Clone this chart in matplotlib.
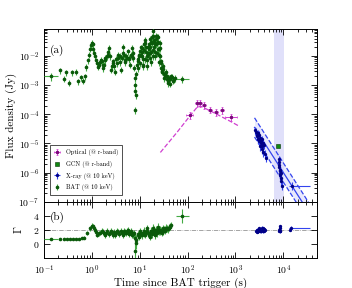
import numpy as np
import matplotlib.pyplot as plt

plt.rcParams['font.family'] = ['cmr10', 'DejaVu Serif']
plt.rcParams['mathtext.fontset'] = 'cm'
plt.rcParams['axes.formatter.use_mathtext'] = True
plt.rcParams['axes.unicode_minus'] = False

# BAT light curve (@ 10 keV), log10 flux in Jy
bat_t = [0.216, 0.26, 0.29, 0.33, 0.385, 0.47, 0.51, 0.58, 0.66, 0.71, 0.77,
         0.82, 0.87, 0.92, 0.96, 1.0, 1.04, 1.08, 1.12, 1.17, 1.22, 1.28, 1.33,
         1.40, 1.47, 1.55, 1.62, 1.68, 1.74, 1.82, 1.92, 2.05, 2.15, 2.3, 2.4,
         2.53, 2.65, 2.8, 2.95, 3.1, 3.3, 3.45, 3.6, 3.8, 4.06, 4.2, 4.4, 4.6,
         4.9, 5.2, 5.6, 5.9, 6.3, 6.6, 6.8, 7.1, 7.4, 7.7, 7.85, 7.95, 8.05,
         8.1, 8.2, 8.4, 8.7, 9.1, 9.4, 9.8, 10.2, 10.6, 11.1, 11.5, 11.9, 12.4,
         12.9, 13.4, 13.9, 14.4, 14.9, 15.5, 16.0, 16.4, 17.0, 17.6, 18.2,
         18.8, 19.3, 19.9, 20.5, 21.1, 21.8, 22.7, 23.4, 24.1, 24.9, 25.7,
         26.5, 27.3, 28.1, 28.8, 30.0, 31.5, 33.7, 35.5, 37.5, 39.7, 42.0,
         45.0, 49.0, 55.0]
bat_logf = [-2.49, -2.78, -2.56, -2.91, -2.56, -2.53, -2.87, -2.73, -2.84,
            -2.70, -2.38, -2.15, -1.95, -1.75, -1.62, -1.55, -1.60, -1.75,
            -1.88, -2.01, -2.15, -2.25, -2.36, -2.30, -2.20, -2.13, -2.18,
            -2.30, -2.41, -2.30, -2.15, -2.01, -1.85, -1.72, -2.00, -2.47,
            -2.35, -2.18, -2.35, -2.53, -2.25, -2.05, -1.95, -2.20, -2.47,
            -2.05, -1.67, -1.95, -2.13, -2.00, -1.84, -2.05, -2.30, -1.95,
            -1.72, -1.90, -2.07, -2.40, -2.76, -3.00, -3.20, -3.86, -3.35,
            -2.60, -2.30, -2.41, -2.18, -2.00, -1.84, -1.95, -1.72, -2.10,
            -2.30, -1.80, -1.44, -1.70, -2.00, -2.35, -1.90, -1.60, -1.90,
            -1.67, -2.20, -1.50, -1.35, -1.80, -1.15, -1.50, -2.00, -1.60,
            -1.30, -1.32, -1.90, -1.50, -1.75, -2.20, -1.72, -2.18, -2.40,
            -2.53, -2.35, -2.60, -2.70, -2.55, -2.80, -2.93, -2.80, -2.70,
            -2.85, -2.76]
# extra BAT bins filling the bright 9-40 s episode
bat2_t = [1.9, 2.2, 2.7, 3.2, 3.9, 4.5, 5.0, 5.4, 6.1, 7.0, 9.0, 9.6, 10.0,
          10.4, 10.9, 11.3, 11.7, 12.1, 12.6, 13.1, 13.6, 14.1, 14.6, 15.2,
          15.8, 16.2, 16.7, 17.3, 17.9, 18.5, 19.0, 19.6, 20.2, 20.8, 21.4,
          22.2, 23.0, 23.7, 24.5, 25.3, 26.1, 26.9, 27.7, 29.0, 30.7, 32.5,
          34.5, 36.5, 38.5, 41.0, 43.5, 47.0, 52.0]
bat2_logf = [-2.05, -1.95, -2.25, -2.10, -2.00, -1.90, -2.20, -2.05, -2.10,
             -2.00, -2.10, -1.95, -2.25, -1.70, -2.00, -1.85, -2.35, -1.60,
             -2.10, -1.55, -1.85, -2.15, -1.70, -1.95, -1.75, -2.05, -1.40,
             -1.85, -1.55, -2.00, -1.30, -1.70, -1.45, -1.85, -1.40, -1.60,
             -1.55, -1.75, -1.35, -1.95, -1.55, -2.00, -2.25, -2.50, -2.45,
             -2.75, -2.60, -2.70, -2.85, -2.75, -2.95, -2.72, -2.80]
# wide-bin BAT points: first and last bins
bat_wide_t = [0.14, 78.0]
bat_wide_lo = [0.1, 58.0]
bat_wide_hi = [0.2, 105.0]
bat_wide_logf = [-2.70, -2.78]

# photon index Gamma from BAT
gam_t = [0.216, 0.26, 0.3, 0.35, 0.4, 0.47, 0.55, 0.62, 0.7, 0.8, 0.9, 1.0,
         1.1, 1.2, 1.3, 1.45, 1.6, 1.75, 1.9, 2.1, 2.3, 2.5, 2.7, 2.9, 3.1,
         3.4, 3.7, 4.0, 4.4, 4.8, 5.2, 5.6, 6.0, 6.5, 7.0, 7.5, 8.0, 8.5,
         9.0, 9.6, 10.2, 11.0, 12.0, 13.0, 14.0, 15.0, 16.0, 17.0, 18.0,
         19.0, 20.0, 21.0, 22.0, 23.0, 24.0, 25.0, 27.0, 29.0, 31.0, 33.0,
         36.0, 39.0, 42.0, 45.0,
         1.05, 1.15, 1.38, 1.68, 2.0, 2.4, 2.8, 3.25, 3.55, 4.2, 4.6, 5.0,
         5.4, 5.8, 6.3, 6.8, 7.3, 7.8, 8.25, 9.3, 9.9, 10.6, 11.5, 12.5,
         13.5, 14.5, 15.5, 16.5, 17.5, 18.5, 19.5, 20.5, 21.5, 22.5, 23.5,
         24.5, 26.0, 28.0, 30.0, 32.0, 34.5, 37.5, 40.5, 43.5]
gam_val = [0.72, 0.70, 0.75, 0.68, 0.72, 0.70, 0.74, 0.78, 0.90, 1.5, 2.2,
           2.6, 2.2, 1.7, 1.3, 1.6, 1.9, 1.5, 1.3, 1.8, 1.4, 1.9, 1.2, 1.7,
           1.3, 1.9, 1.4, 1.8, 1.3, 1.9, 1.5, 2.0, 1.4, 1.8, 1.2, 1.5, -1.0,
           0.5, 1.4, 1.0, 1.8, 1.2, 1.9, 1.3, 2.2, 1.5, 1.0, 1.9, 1.4, 2.3,
           1.6, 1.2, 2.0, 1.5, 2.4, 1.8, 2.0, 1.6, 2.2, 1.9, 2.3, 2.1, 2.4,
           2.7,
           2.5, 2.0, 1.5, 1.7, 1.6, 1.6, 1.5, 1.6, 1.7, 1.6, 1.5, 1.7, 1.8,
           1.6, 1.6, 1.5, 1.4, 0.8, 0.2, 1.2, 1.4, 1.5, 1.6, 1.5, 1.7, 1.9,
           1.3, 1.5, 1.8, 1.7, 2.0, 1.8, 1.6, 1.9, 2.0, 2.1, 1.7, 1.9, 1.8,
           2.1, 2.0, 2.2, 2.3, 2.5]
gam_err = [0.12, 0.12, 0.12, 0.12, 0.12, 0.12, 0.12, 0.12, 0.2, 0.3, 0.3,
           0.3, 0.3, 0.3, 0.3, 0.4, 0.4, 0.4, 0.4, 0.4, 0.4, 0.4, 0.4, 0.4,
           0.4, 0.4, 0.4, 0.4, 0.4, 0.4, 0.4, 0.4, 0.4, 0.4, 0.4, 0.5, 1.2,
           0.8, 0.5, 0.5, 0.5, 0.5, 0.5, 0.5, 0.5, 0.5, 0.5, 0.5, 0.5, 0.5,
           0.5, 0.5, 0.5, 0.5, 0.5, 0.5, 0.5, 0.5, 0.5, 0.5, 0.5, 0.5, 0.4,
           0.4,
           0.3, 0.3, 0.4, 0.4, 0.4, 0.4, 0.4, 0.4, 0.4, 0.4, 0.4, 0.4, 0.4,
           0.4, 0.4, 0.4, 0.5, 0.7, 0.9, 0.5, 0.5, 0.5, 0.5, 0.5, 0.5, 0.5,
           0.5, 0.5, 0.5, 0.5, 0.5, 0.5, 0.5, 0.5, 0.5, 0.5, 0.5, 0.5, 0.5,
           0.5, 0.5, 0.5, 0.5, 0.4]
gam_wide_t = [0.14, 78.0]
gam_wide_val = [0.72, 4.0]
gam_wide_err = [0.12, 1.0]

# optical (@ r-band)
opt_t = [110, 155, 181, 222, 296, 396, 522, 816]
opt_lo = [92, 140, 165, 200, 265, 355, 470, 600]
opt_hi = [130, 170, 200, 245, 330, 440, 580, 1070]
opt_logf = [-4.03, -3.61, -3.61, -3.69, -3.84, -3.92, -3.86, -4.09]
# broken power-law fit (dashed)
opt_fit_t = [27, 60, 110, 150, 170, 200, 400, 800, 1170]
opt_fit_logf = [-5.31, -4.62, -4.07, -3.80, -3.72, -3.74, -3.99, -4.25, -4.40]

# GCN (@ r-band)
gcn_t = [7900]
gcn_logf = [-5.10]

# X-ray (@ 10 keV)
xrt_t = [2600, 2700, 2750, 2850, 2900, 3000, 3050, 3150, 3200, 3300, 3350,
         3450, 3500, 3600, 3650, 3750, 3800, 3950, 4100, 4250,
         8000, 8100, 8200, 8300, 8400, 8500, 8600, 8700, 8800, 8900, 9000,
         9200, 15000]
xrt_logf = [-4.55, -4.60, -4.75, -4.70, -4.65, -4.85, -4.90, -4.70, -4.80,
            -5.10, -5.00, -4.90, -4.85, -5.20, -5.10, -5.00, -5.30, -5.05,
            -5.35, -5.50,
            -5.55, -5.65, -5.75, -5.80, -5.90, -6.05, -6.10, -5.95, -6.00,
            -6.20, -6.30, -6.45, -6.45]
xrt_dt = [50] * 32 + [0]
xrt_lo = [13000]
xrt_hi = [36000]
xrt_gam_t = [2650, 2750, 2800, 2900, 2950, 3050, 3100, 3200, 3300, 3400,
             3500, 3600, 3700, 3800, 3900, 4000, 4100, 8200, 8300, 8400,
             8500, 8600, 8700, 14000, 14500]
xrt_gam = [1.9, 1.7, 2.0, 1.8, 1.8, 2.2, 2.1, 1.9, 1.9, 1.8, 2.0, 2.3, 2.2,
           1.8, 1.9, 2.1, 2.0, 1.9, 2.0, 2.3, 2.5, 1.8, 1.9, 2.0, 2.3]
xrt_gam_err = [0.2] * 25
# power-law fit and its band
xfit_t = [2500, 40000]
xfit_logf = [-4.45, -7.55]
xfit_lo = [-4.78, -7.88]
xfit_hi = [-4.12, -7.22]

band_t = [6300, 10300]

bat_edge = '#44aa44'
bat_face = '#0a5a0a'
opt_edge = '#d040d0'
opt_face = '#7a0a7a'
xrt_edge = '#3344ee'
xrt_face = '#000088'

fig = plt.figure(figsize=(3.52, 2.88), dpi=100)
ax = fig.add_axes([0.125, 0.30, 0.775, 0.599])
ax2 = fig.add_axes([0.125, 0.104, 0.775, 0.196], sharex=ax)

f = lambda v: np.power(10.0, np.array(v))

ax.axvspan(band_t[0], band_t[1], color=(0.88, 0.88, 0.98), lw=0, zorder=0)

# BAT
bat_style = dict(fmt='o', ms=1.6, mfc=bat_face, mec=bat_face, ecolor=bat_edge,
                 elinewidth=0.8, capsize=0, zorder=3)
bat_f = f(bat_logf)
h_bat = ax.errorbar(bat_t, bat_f, yerr=0.25 * bat_f, **bat_style)
bat2_f = f(bat2_logf)
ax.errorbar(bat2_t, bat2_f, yerr=0.25 * bat2_f, **bat_style)
bw_f = f(bat_wide_logf)
ax.errorbar(bat_wide_t, bw_f,
            xerr=[np.array(bat_wide_t) - np.array(bat_wide_lo),
                  np.array(bat_wide_hi) - np.array(bat_wide_t)],
            yerr=0.3 * bw_f, **bat_style)

# optical
ax.plot(opt_fit_t, f(opt_fit_logf), ls='--', color=opt_edge, lw=0.9)
opt_f = f(opt_logf)
h_opt = ax.errorbar(opt_t, opt_f,
                    xerr=[np.array(opt_t) - np.array(opt_lo),
                          np.array(opt_hi) - np.array(opt_t)],
                    yerr=0.25 * opt_f, fmt='s', ms=1.3, mfc=opt_face,
                    mec=opt_face, ecolor=opt_edge, elinewidth=0.7, capsize=0.8,
                    capthick=0.5, zorder=3)

# GCN
h_gcn = ax.errorbar(gcn_t, f(gcn_logf), fmt='s', ms=2.5, mfc='#118811',
                    mec='#053305', mew=0.4, zorder=3)

# X-ray fit and data
ax.fill_between(xfit_t, f(xfit_lo), f(xfit_hi), color=(0.86, 0.86, 0.98),
                alpha=0.6, lw=0, zorder=1)
ax.plot(xfit_t, f(xfit_logf), color=xrt_edge, lw=0.9, zorder=2)
ax.plot(xfit_t, f(xfit_lo), color=xrt_edge, lw=0.9, ls='--', zorder=2)
ax.plot(xfit_t, f(xfit_hi), color=xrt_edge, lw=0.9, ls='--', zorder=2)
xrt_f = f(xrt_logf)
xrt_xlo = np.array(xrt_dt, dtype=float)
xrt_xhi = np.array(xrt_dt, dtype=float)
xrt_xlo[-1] = xrt_t[-1] - xrt_lo[0]
xrt_xhi[-1] = xrt_hi[0] - xrt_t[-1]
h_xrt = ax.errorbar(xrt_t, xrt_f, xerr=[xrt_xlo, xrt_xhi],
                    yerr=0.3 * xrt_f, fmt='o', ms=1.4, mfc=xrt_face,
                    mec=xrt_face, ecolor=xrt_edge, elinewidth=0.8, capsize=0,
                    zorder=3)

ax.set_xscale('log')
ax.set_yscale('log')
ax.set_xlim(0.1, 5e4)
ax.set_ylim(1e-7, 8.5e-2)
ax.set_ylabel('Flux density (Jy)', fontsize=8, labelpad=1)
ax.text(0.02, 0.86, '(a)', transform=ax.transAxes, fontsize=8)
ax.tick_params(labelbottom=False)

leg = ax.legend([h_opt, h_gcn, h_xrt, h_bat],
                ['Optical (@ r-band)', 'GCN (@ r-band)', 'X-ray (@ 10 keV)',
                 'BAT (@ 10 keV)'],
                loc='lower left', fontsize=4.5, fancybox=False,
                edgecolor='#333333', framealpha=1, borderpad=0.6,
                labelspacing=0.75, handlelength=1.2, bbox_to_anchor=(0.01, 0.02))
leg.get_frame().set_linewidth(0.6)

# bottom panel
ax2.axhline(2, color='gray', ls='-.', lw=0.5, zorder=1)
ax2.errorbar(gam_t, gam_val, yerr=gam_err, **bat_style)
ax2.errorbar(gam_wide_t, gam_wide_val,
             xerr=[np.array(gam_wide_t) - np.array(bat_wide_lo),
                   np.array(bat_wide_hi) - np.array(gam_wide_t)],
             yerr=gam_wide_err, **bat_style)
xg_lo = np.full(len(xrt_gam_t), 50.0)
xg_hi = np.full(len(xrt_gam_t), 50.0)
xg_lo[-1] = xrt_gam_t[-1] - xrt_lo[0]
xg_hi[-1] = xrt_hi[0] - xrt_gam_t[-1]
ax2.errorbar(xrt_gam_t, xrt_gam, xerr=[xg_lo, xg_hi], yerr=xrt_gam_err,
             fmt='o', ms=1.4, mfc=xrt_face, mec=xrt_face, ecolor=xrt_edge,
             elinewidth=0.8, capsize=0, zorder=3)
ax2.set_ylim(-2, 6)
ax2.set_yticks([0, 2, 4])
ax2.set_ylabel(r'$\Gamma$', fontsize=8, labelpad=6)
ax2.set_xlabel('Time since BAT trigger (s)', fontsize=8, labelpad=1)
ax2.text(0.02, 0.68, '(b)', transform=ax2.transAxes, fontsize=8)

for a in (ax, ax2):
    a.tick_params(which='both', direction='in', top=True, right=True,
                  labelsize=7, width=0.6)
    a.tick_params(which='major', length=4)
    a.tick_params(which='minor', length=2)
    for s in a.spines.values():
        s.set_linewidth(0.7)
ax2.yaxis.set_minor_locator(plt.MultipleLocator(1))
ax2.tick_params(which='minor', axis='y', length=0)

fig.savefig('out.png', dpi=100)
